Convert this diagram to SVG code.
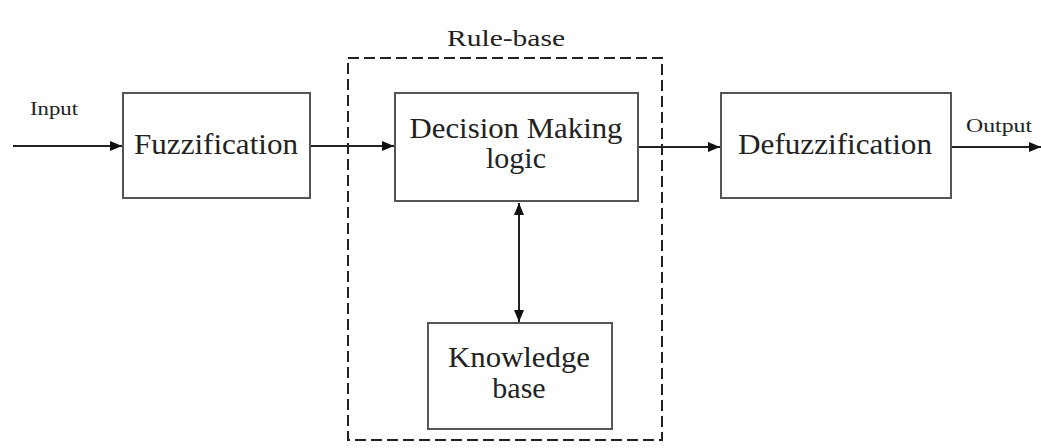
<svg xmlns="http://www.w3.org/2000/svg" width="1041" height="448" viewBox="0 0 1041 448">
<style>
.box{fill:#fff;stroke:#555;stroke-width:2}
.dash{fill:none;stroke:#222;stroke-width:2;stroke-dasharray:11 5}
.conn{stroke:#222;stroke-width:2;fill:none}
text{font-family:'Liberation Serif','Times New Roman',Times,serif;fill:#222;text-anchor:middle}
.big{font-size:30px}
.small{font-size:19px}
</style>
<defs>
<marker id="ah" viewBox="0 0 12 10" refX="12" refY="5" markerWidth="12" markerHeight="10" markerUnits="userSpaceOnUse" orient="auto-start-reverse">
<path d="M0,0 L12,5 L0,10 Z" fill="#111"/>
</marker>
</defs>
<rect width="1041" height="448" fill="#fff"/>
<g id="rule-base">
<rect class="dash" x="348" y="58" width="314" height="382"/>
<text font-family="Liberation Serif, serif" x="506" y="46" font-size="24" textLength="118" lengthAdjust="spacingAndGlyphs">Rule-base</text>
</g>
<g id="connectors">
<line class="conn" x1="13" y1="146" x2="122" y2="146" marker-end="url(#ah)"/>
<line class="conn" x1="311" y1="146" x2="394" y2="146" marker-end="url(#ah)"/>
<line class="conn" x1="639" y1="147" x2="720" y2="147" marker-end="url(#ah)"/>
<line class="conn" x1="952" y1="147" x2="1041" y2="147" marker-end="url(#ah)"/>
<line class="conn" x1="519" y1="203" x2="519" y2="322" marker-start="url(#ah)" marker-end="url(#ah)"/>
<text class="small" font-family="Liberation Serif, serif" x="54" y="115" textLength="48" lengthAdjust="spacingAndGlyphs">Input</text>
<text class="small" font-family="Liberation Serif, serif" x="999" y="132" textLength="66" lengthAdjust="spacingAndGlyphs">Output</text>
</g>
<g id="fuzzification">
<rect class="box" x="123" y="93" width="187" height="105"/>
<text class="big" font-family="Liberation Serif, serif" x="216" y="154" textLength="164" lengthAdjust="spacingAndGlyphs">Fuzzification</text>
</g>
<g id="decision">
<rect class="box" x="395" y="93" width="243" height="108"/>
<text class="big" font-family="Liberation Serif, serif" x="516" y="138" textLength="213" lengthAdjust="spacingAndGlyphs">Decision Making</text>
<text class="big" font-family="Liberation Serif, serif" x="516" y="168">logic</text>
</g>
<g id="knowledge">
<rect class="box" x="428" y="323" width="184" height="106"/>
<text class="big" font-family="Liberation Serif, serif" x="519" y="367" textLength="142" lengthAdjust="spacingAndGlyphs">Knowledge</text>
<text class="big" font-family="Liberation Serif, serif" x="519" y="398">base</text>
</g>
<g id="defuzzification">
<rect class="box" x="721" y="93" width="230" height="105"/>
<text class="big" font-family="Liberation Serif, serif" x="835" y="154" textLength="194" lengthAdjust="spacingAndGlyphs">Defuzzification</text>
</g>
</svg>
